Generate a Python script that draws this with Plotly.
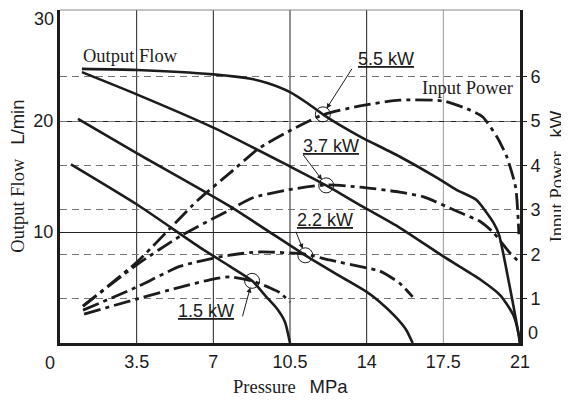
import plotly.graph_objects as go

# output flow curves (pressure MPa -> flow L/min), one per motor size
q55_p = [1.0, 3.5, 7.0, 8.7, 9.5, 10.5, 11.3, 12.0, 12.8, 13.7, 15.5, 17.2, 18.1, 19.0, 19.8, 20.05, 20.5, 20.9, 21.0]
q55_q = [24.7, 24.6, 24.2, 23.8, 23.4, 22.6, 21.6, 20.6, 19.6, 18.6, 16.8, 14.9, 13.8, 12.9, 10.8, 9.7, 5.4, 1.2, 0.0]
q37_p = [1.0, 3.5, 7.0, 10.5, 12.15, 13.8, 15.5, 17.5, 19.2, 20.1, 20.7, 20.95, 21.0]
q37_q = [24.4, 22.4, 19.4, 15.9, 14.2, 12.3, 10.4, 7.8, 5.7, 4.3, 2.5, 0.7, 0.0]
q22_p = [0.82, 3.5, 7.76, 11.2, 12.8, 14.0, 14.6, 15.3, 15.8, 16.1]
q22_q = [20.2, 17.1, 12.3, 7.9, 6.0, 4.6, 3.7, 2.4, 1.2, 0.0]
q15_p = [0.5, 3.5, 6.4, 7.76, 8.77, 9.4, 9.9, 10.27, 10.5]
q15_q = [16.1, 12.5, 8.6, 6.9, 5.6, 4.2, 3.1, 1.9, 0.0]

# input power curves (pressure MPa -> kW)
w55_p = [1.05, 3.5, 6.3, 7.76, 9.1, 10.8, 12.0, 13.7, 15.5, 17.5, 18.7, 19.3, 19.95, 20.4, 20.8, 20.95]
w55_w = [0.83, 1.82, 3.22, 3.83, 4.39, 4.86, 5.14, 5.34, 5.47, 5.45, 5.25, 5.09, 4.64, 4.19, 3.51, 2.45]
w37_p = [1.05, 3.5, 5.5, 7.76, 8.8, 10.4, 12.15, 13.7, 15.5, 16.6, 18.2, 19.2, 19.8, 20.5, 21.0]
w37_w = [0.83, 1.76, 2.41, 3.0, 3.27, 3.45, 3.56, 3.51, 3.40, 3.29, 2.95, 2.73, 2.48, 2.05, 1.8]
w22_p = [1.05, 3.5, 5.5, 7.76, 9.1, 11.2, 12.3, 14.0, 14.6, 15.5, 16.1]
w22_w = [0.74, 1.26, 1.73, 1.98, 2.05, 2.0, 1.87, 1.69, 1.62, 1.35, 1.04]
w15_p = [1.1, 3.5, 5.5, 7.0, 7.76, 8.77, 9.6, 10.05, 10.5]
w15_w = [0.65, 0.99, 1.26, 1.44, 1.49, 1.40, 1.24, 1.13, 0.92]

# rated points (circled)
rated_p = [12.0, 12.15, 11.2, 8.77]
rated_q = [20.6, 14.2, 7.9, 5.6]
rated_lbl = ["5.5 kW", "3.7 kW", "2.2 kW", "1.5 kW"]

x_ticks = [3.5, 7, 10.5, 14, 17.5, 21]
flow_ticks = [10, 20]
kw_ticks = [1, 2, 3, 4, 5, 6]

INK = "#1c1c1c"
SANS = "Liberation Sans, Arial, sans-serif"
SERIF = "Liberation Serif, Times New Roman, serif"
TICK = dict(family=SANS, size=18, color=INK)

fig = go.Figure()

# vertical grid (the 17.5 line is lighter in the original)
for xv in x_ticks[:-1]:
    fig.add_vline(x=xv, line=dict(color="#999" if xv == 17.5 else "#222", width=1), layer="below")

for px, py in [(q55_p, q55_q), (q37_p, q37_q), (q22_p, q22_q), (q15_p, q15_q)]:
    fig.add_trace(go.Scatter(x=px, y=py, mode="lines",
                             line=dict(color=INK, width=2.6, shape="spline", smoothing=0.6),
                             showlegend=False, hoverinfo="skip"))

for px, pw in [(w55_p, w55_w), (w37_p, w37_w), (w22_p, w22_w), (w15_p, w15_w)]:
    fig.add_trace(go.Scatter(x=px, y=pw, yaxis="y2", mode="lines",
                             line=dict(color=INK, width=2.8, shape="spline", smoothing=0.6,
                                       dash="17px,5px,4px,5px"),
                             showlegend=False, hoverinfo="skip"))

fig.add_trace(go.Scatter(x=rated_p, y=rated_q, mode="markers",
                         marker=dict(symbol="circle-open", size=15, color=INK, line=dict(width=1)),
                         showlegend=False, hoverinfo="skip"))

# labels with leader arrows: (text centre offset, arrow tail offset) in px
lbl_pos = [(63, -55, 30, -47), (5, -39, -24, -32), (20, -35, -10, -25), (-46, 30, -10, 37)]
for (p, q, t), (tx, ty, ax, ay) in zip(zip(rated_p, rated_q, rated_lbl), lbl_pos):
    fig.add_annotation(x=p, y=q, text="<u>" + t + "</u>", showarrow=False,
                       xshift=tx, yshift=-ty, font=dict(family=SANS, size=18, color=INK))
    fig.add_annotation(x=p, y=q, text="", showarrow=True, ax=ax, ay=ay,
                       arrowhead=2, arrowsize=1, arrowwidth=1, arrowcolor=INK, standoff=7)

fig.add_annotation(x=3.24, y=25.9, text="Output Flow", showarrow=False,
                   font=dict(family=SERIF, size=18.5, color=INK))
fig.add_annotation(x=20.75, y=23.0, text="Input Power", showarrow=False, xanchor="right",
                   font=dict(family=SERIF, size=18.5, color=INK))

# axis titles (serif words + sans units)
fig.add_annotation(xref="paper", yref="paper", x=-0.093, y=0.5, textangle=-90, showarrow=False,
                   xanchor="center", yanchor="middle",
                   text="Output Flow   <span style='font-family:Liberation Sans'>L/min</span>",
                   font=dict(family=SERIF, size=18.5, color=INK))
fig.add_annotation(xref="paper", yref="paper", x=1.08, y=0.5, textangle=-90, showarrow=False,
                   xanchor="center", yanchor="middle",
                   text="Input Power   <span style='font-family:Liberation Sans'>kW</span>",
                   font=dict(family=SERIF, size=18.5, color=INK))
fig.add_annotation(xref="paper", yref="paper", x=0.5, y=-0.132, showarrow=False,
                   xanchor="center", yanchor="middle",
                   text="Pressure   <span style='font-family:Liberation Sans'>MPa</span>",
                   font=dict(family=SERIF, size=18.5, color=INK))

# labels that sit off the usual tick spots
fig.add_annotation(x=0, yref="paper", y=0, text="0", showarrow=False, yanchor="top",
                   xshift=-10, yshift=-8, font=TICK)
fig.add_annotation(xref="paper", x=1, yref="y2", y=0, text="0", showarrow=False, xanchor="left",
                   xshift=6, yshift=10, font=TICK)
fig.add_annotation(xref="paper", x=0, y=30, text="30", showarrow=False, xanchor="right",
                   yanchor="top", xshift=-4, yshift=3, font=TICK)

fig.add_shape(type="line", xref="paper", yref="paper", x0=0, x1=1, y0=1, y1=1,
              line=dict(color="#888", width=1))

# page body adds an 8px offset, so the figure is 8px smaller and shifted
fig.update_layout(
    width=561, height=395,
    margin=dict(l=52, r=49, t=2, b=60, autoexpand=False),
    paper_bgcolor="white", plot_bgcolor="white",
    xaxis=dict(range=[0, 21], tickvals=x_ticks, showgrid=False,
               zeroline=False, showline=True, linecolor=INK, linewidth=3, automargin=False,
               tickfont=TICK, ticks=""),
    yaxis=dict(range=[0, 30], tickvals=flow_ticks, showgrid=True, gridcolor="#222", gridwidth=1,
               zeroline=False, showline=True, linecolor=INK, linewidth=3, automargin=False,
               tickfont=TICK, ticks=""),
    yaxis2=dict(range=[0, 7.5], tickvals=kw_ticks, overlaying="y", side="right",
                showgrid=True, gridcolor="#777", gridwidth=1, griddash="7px,5px",
                zeroline=False, showline=True, linecolor=INK, linewidth=3, automargin=False,
                ticks="outside", ticklen=4, tickcolor=INK, tickfont=TICK),
)

fig.write_html("out.html")
